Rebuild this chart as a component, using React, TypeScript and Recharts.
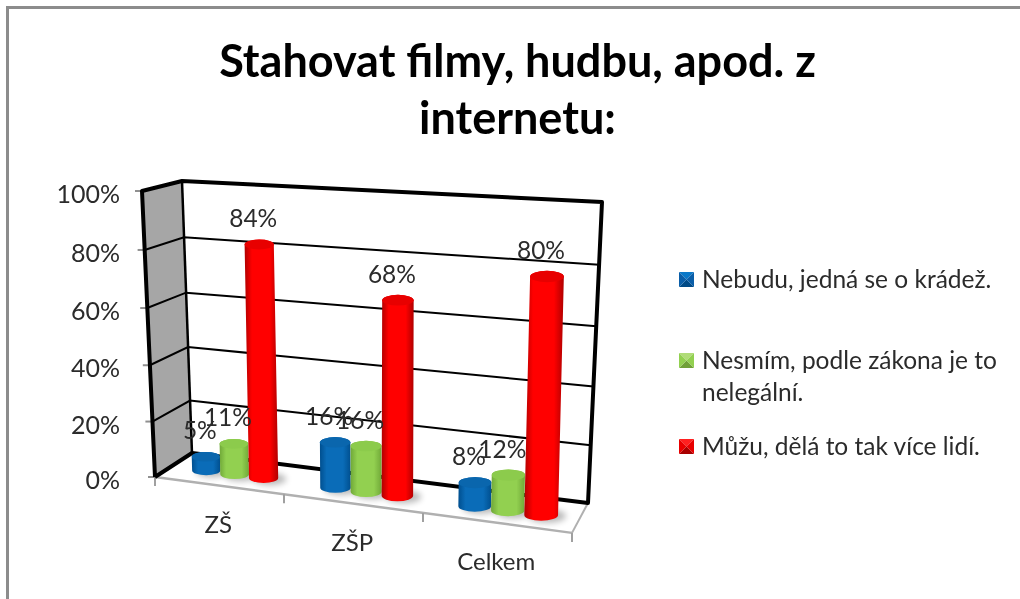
import { BarChart, Bar, XAxis, YAxis, ReferenceArea, LabelList } from "recharts";

const categories = ["ZŠ", "ZŠP", "Celkem"];
const seriesNames = ["Nebudu, jedná se o krádež.", "Nesmím, podle zákona je to nelegální.", "Můžu, dělá to tak více lidí."];
const nebudu = [5, 16, 8];
const nesmim = [11, 16, 12];
const muzu = [84, 68, 80];
const yTicks = [0, 20, 40, 60, 80, 100];
const titleLines = ["Stahovat filmy, hudbu, apod. z", "internetu:"];
const legendLines = [["Nebudu, jedná se o krádež."], ["Nesmím, podle zákona je to", "nelegální."], ["Můžu, dělá to tak více lidí."]];

const data = categories.map((name, i) => ({ name, a: nebudu[i], b: nesmim[i], c: muzu[i] }));

// plot box that recharts sees, everything gets warped into the fake 3D after that
const L = 169;
const W = 410;
const T = 100;
const H = 300;
const FONT = "Lato, sans-serif";
const TEXT = "#2b2b2b";

const midX = (u: number) => 366 + 409.5 * (u - 0.5) + 45 * (u - 0.5) * (u - 0.5);

// bars stand in the middle plane between front and back of the box
function warp(px: number, py: number) {
  const u = (px - L) / W;
  const v = (T + H - py) / H;
  const x0 = midX(u);
  const base = 474 + (x0 - 233) * 0.133;
  const scale = 278 + (x0 - 262) * 0.072;
  const lean = (x0 - 380) * 0.045;
  return { x: x0 + lean * v, y: base - scale * v };
}

// the wall lines, v in percent
const frontWall = (v: number) => ({ x: 155 - 0.13 * v, y: 477 - 2.75 * v - 0.0011 * v * v });
const backLeft = (v: number) => ({ x: 192 - 0.1 * v, y: 453 - 2.6 * v - 0.0012 * v * v });
const backRight = (v: number) => ({ x: 588 + 0.14 * v, y: 503 - 2.85 * v - 0.0016 * v * v });
const floorX = (u: number) => 155 + 372 * u + 45 * u * u;
const floorY = (x: number) => 477 + (x - 155) * 0.134;

const pts = (list: { x: number; y: number }[]) => list.map((p) => `${p.x},${p.y}`).join(" ");

function Box() {
  const fl = frontWall(0);
  const bl = backLeft(0);
  const br = backRight(0);
  const frontR = { x: floorX(1), y: floorY(floorX(1)) };
  return (
    <g>
      <polygon points={pts([frontWall(100), backLeft(100), bl, fl])} fill="#a6a6a6" />
      <polyline points={pts([frontR, br])} fill="none" stroke="#b0b0b0" strokeWidth={2} />
      <line x1={fl.x} y1={fl.y} x2={frontR.x} y2={frontR.y} stroke="#b0b0b0" strokeWidth={2.5} />
      {[0, 1 / 3, 2 / 3, 1].map((u) => {
        const x = floorX(u);
        return <line key={u} x1={x} y1={floorY(x)} x2={x} y2={floorY(x) + 9} stroke="#a0a0a0" strokeWidth={2} />;
      })}
      {yTicks.map((t) => {
        const p = frontWall(t);
        return <line key={t} x1={p.x - 7} y1={p.y} x2={p.x} y2={p.y} stroke="#909090" strokeWidth={2} />;
      })}
      {yTicks.slice(1, -1).map((t) => (
        <polyline key={t} points={pts([frontWall(t), backLeft(t), backRight(t)])} fill="none" stroke="#000" strokeWidth={2} />
      ))}
      <polyline points={pts([fl, frontWall(100), backLeft(100), backRight(100), br, bl, fl])} fill="none" stroke="#000" strokeWidth={4} strokeLinejoin="round" />
      <line x1={bl.x} y1={bl.y} x2={backLeft(100).x} y2={backLeft(100).y} stroke="#000" strokeWidth={2.5} />
    </g>
  );
}

function Cylinder(props: any, id: string, topColor: string) {
  const { x, y, width, height } = props;
  const left = warp(x, y + height);
  const right = warp(x + width, y + height);
  const c0 = warp(x + width / 2, y + height);
  const c1 = warp(x + width / 2, y);
  const rx = (right.x - left.x) / 2;
  const ry = rx * 0.34;
  const d = `M${c1.x - rx},${c1.y} L${c0.x - rx},${c0.y} A${rx},${ry} 0 0 0 ${c0.x + rx},${c0.y} L${c1.x + rx},${c1.y} A${rx},${ry} 0 0 0 ${c1.x - rx},${c1.y} Z`;
  return (
    <g>
      <ellipse cx={c0.x + 6} cy={c0.y + 1} rx={rx + 2} ry={ry + 1} fill="#000" opacity={0.28} filter="url(#floorShadow)" />
      <path d={d} fill={`url(#${id})`} />
      <ellipse cx={c1.x} cy={c1.y} rx={rx} ry={ry} fill={topColor} />
    </g>
  );
}

function BarValue(props: any) {
  const { x, y, width, value } = props;
  const p = warp(x + width / 2, y);
  return (
    <text x={p.x - 6} y={p.y - 27} textAnchor="middle" dominantBaseline="central" fontFamily={FONT} fontSize={24.5} fill={TEXT}>
      {value}%
    </text>
  );
}

function YTick(props: any) {
  const p = frontWall(props.payload.value);
  return (
    <text x={120} y={p.y + 2} textAnchor="end" dominantBaseline="central" fontFamily={FONT} fontSize={25} fill={TEXT}>
      {props.payload.value}%
    </text>
  );
}

function XTick(props: any) {
  const x = floorX((props.x - L) / W);
  return (
    <text x={x} y={floorY(x) + 38} textAnchor="middle" dominantBaseline="central" fontFamily={FONT} fontSize={24} fill={TEXT}>
      {props.payload.value}
    </text>
  );
}

function Grad({ id, edge, mid }: { id: string; edge: string; mid: string }) {
  return (
    <linearGradient id={id} x1="0" y1="0" x2="1" y2="0">
      <stop offset="0" stopColor={edge} />
      <stop offset="0.22" stopColor={mid} />
      <stop offset="0.75" stopColor={mid} />
      <stop offset="1" stopColor={edge} />
    </linearGradient>
  );
}

function Bevel({ top, side, bottom }: { top: string; side: string; bottom: string }) {
  return (
    <svg width={15} height={15} style={{ position: "absolute", left: 0, top: 0 }}>
      <polygon points="0,0 15,0 7.5,7.5" fill={top} />
      <polygon points="0,15 15,15 7.5,7.5" fill={bottom} />
      <polygon points="0,0 0,15 7.5,7.5" fill={side} />
      <polygon points="15,0 15,15 7.5,7.5" fill={side} />
    </svg>
  );
}

const markers = [
  { top: "#0a78c8", side: "#0a5ea8", bottom: "#004a86" },
  { top: "#b0dc78", side: "#92d050", bottom: "#70a038" },
  { top: "#ff2020", side: "#e80000", bottom: "#a80000" },
];
const legendTops = [263, 344, 430];

export default function App() {
  return (
    <div style={{ position: "absolute", left: 0, top: 0, width: 1020, height: 599, overflow: "hidden", background: "#fff", filter: "blur(0.45px)" }}>
      <div style={{ position: "absolute", left: 6, top: 6, width: 1020, height: 599, borderLeft: "3px solid #8c8c8c", borderTop: "3px solid #8c8c8c" }} />
      <div style={{ position: "absolute", left: 0, top: 32, width: 1035, textAlign: "center", fontFamily: FONT, fontWeight: 700, fontSize: 45, lineHeight: "57px", color: "#000" }}>
        {titleLines.map((t) => (
          <div key={t}>{t}</div>
        ))}
      </div>

      <BarChart
        width={1020}
        height={599}
        data={data}
        margin={{ left: 109, right: 441, top: T, bottom: 169 }}
        barSize={31}
        barGap={0}
        style={{ position: "absolute", left: 0, top: 0 }}
      >
        <defs>
          <Grad id="gradA" edge="#004f8f" mid="#0a6cb8" />
          <Grad id="gradB" edge="#70a838" mid="#92d050" />
          <Grad id="gradC" edge="#b00000" mid="#ff0000" />
          <filter id="floorShadow" x="-50%" y="-50%" width="200%" height="200%">
            <feGaussianBlur stdDeviation="3" />
          </filter>
        </defs>
        <ReferenceArea y1={0} y2={100} ifOverflow="visible" shape={Box} />
        <XAxis dataKey="name" height={30} axisLine={false} tickLine={false} interval={0} tick={XTick} />
        <YAxis width={60} domain={[0, 100]} ticks={yTicks} axisLine={false} tickLine={false} tick={YTick} />
        <Bar dataKey="a" name={seriesNames[0]} isAnimationActive={false} shape={(p: any) => Cylinder(p, "gradA", "#0a66ad")}>
          <LabelList dataKey="a" content={BarValue} />
        </Bar>
        <Bar dataKey="b" name={seriesNames[1]} isAnimationActive={false} shape={(p: any) => Cylinder(p, "gradB", "#8ccb4c")}>
          <LabelList dataKey="b" content={BarValue} />
        </Bar>
        <Bar dataKey="c" name={seriesNames[2]} isAnimationActive={false} shape={(p: any) => Cylinder(p, "gradC", "#e80000")}>
          <LabelList dataKey="c" content={BarValue} />
        </Bar>
      </BarChart>

      {legendLines.map((lines, i) => (
        <div key={i} style={{ position: "absolute", left: 679, top: legendTops[i], fontFamily: FONT, fontSize: 24.5, lineHeight: "32px", color: TEXT, paddingLeft: 23, whiteSpace: "nowrap" }}>
          <div style={{ position: "absolute", left: 0, top: 9, width: 15, height: 15 }}>
            <Bevel {...markers[i]} />
          </div>
          {lines.map((t) => (
            <div key={t}>{t}</div>
          ))}
        </div>
      ))}
    </div>
  );
}
